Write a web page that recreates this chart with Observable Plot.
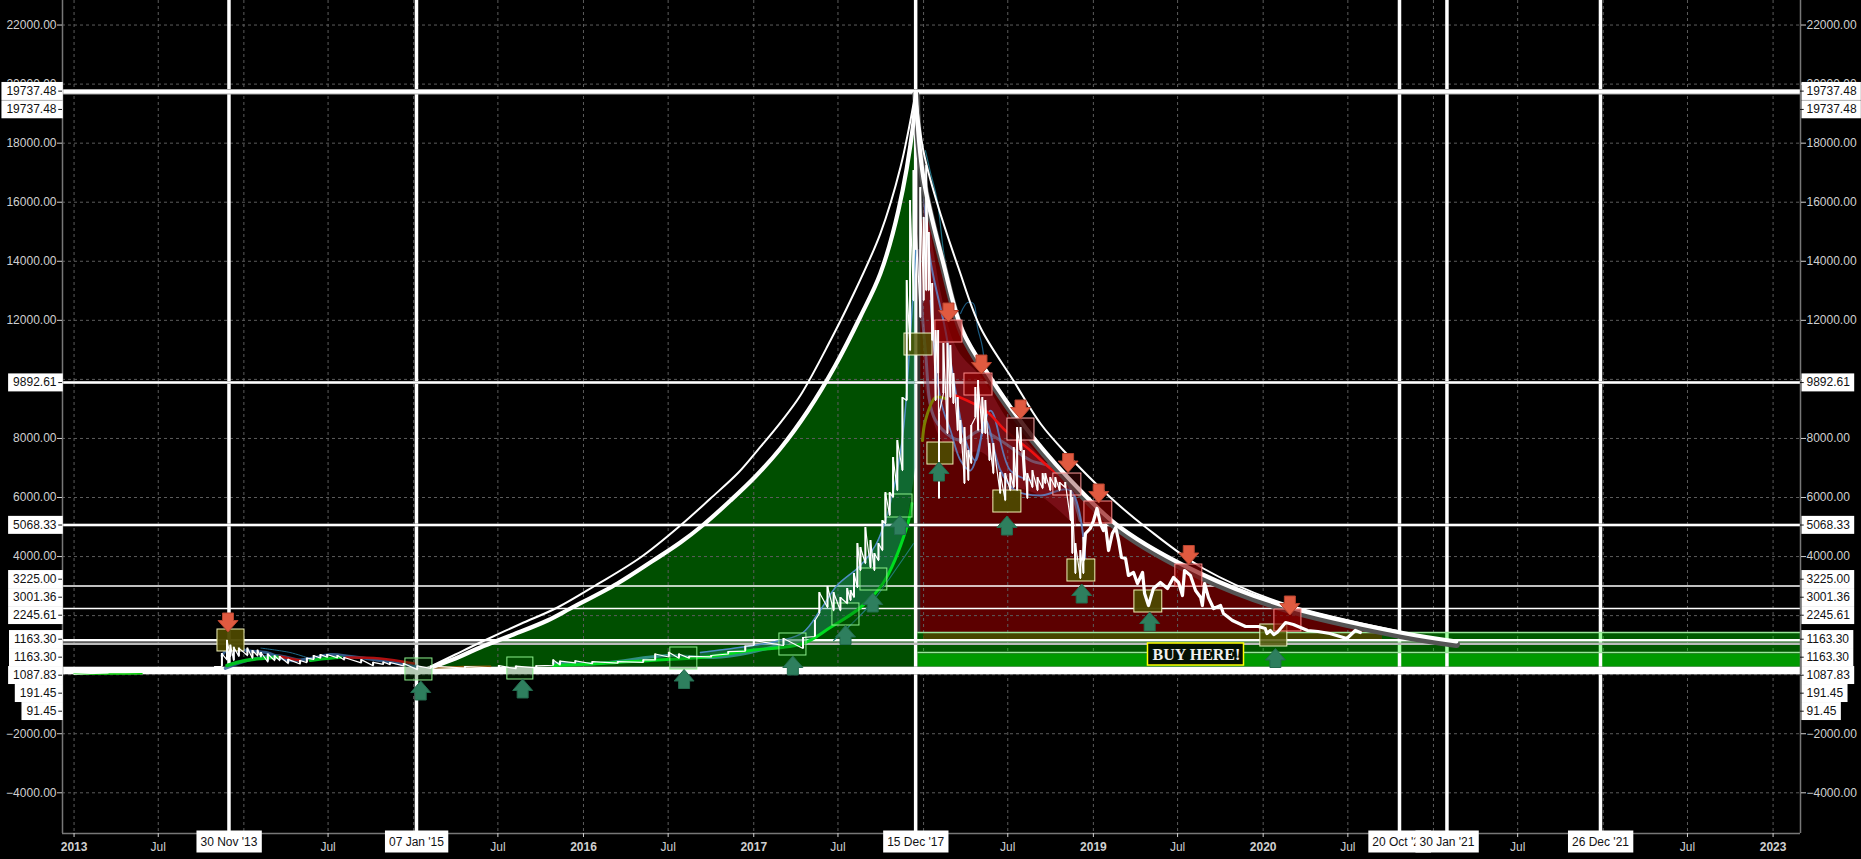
<!DOCTYPE html>
<html>
<head>
<meta charset="utf-8">
<style>
html,body{margin:0;padding:0;background:#000;overflow:hidden}
svg{display:block}
</style>
<script src="https://cdn.jsdelivr.net/npm/d3@7"></script>
<script src="https://cdn.jsdelivr.net/npm/@observablehq/plot@0.6"></script>
</head>
<body>
<div id="chart"></div>
<script>
// ---- Data: decimal year, price ----
const priceTicks = [22000,20000,18000,16000,14000,12000,10000,8000,6000,4000,2000,0,-2000,-4000];
const priceTicksCovered = [10000,2000,0];
const yearTicks = [2013,2014,2015,2016,2017,2018,2019,2020,2021,2022,2023];
const yearTicksCovered = [2014,2015,2018,2021,2022];
const julyTicks = [2013,2014,2015,2016,2017,2018,2019,2020,2021,2022];

const markedDates = [
  ["2013-11-30","30 Nov '13"],["2015-01-07","07 Jan '15"],["2017-12-15","15 Dec '17"],
  ["2020-10-20","20 Oct '20"],["2021-01-30","30 Jan '21"],["2021-12-26","26 Dec '21"]
];
const fibLevelsHeavy = [19737.48];
const fibLevelsMid = [9892.61,5068.33];
const fibLevelsThin = [3001.36,2245.61];
const floorLevels = [191.45,91.45];
const priceFlags = [
  ["19737.48",19762],["19737.48",19142],["9892.61",9892.61],["5068.33",5068.33],
  ["3225.00",3234],["3001.36",2624],["2245.61",2014],["1163.30",1202],
  ["1163.30",593],["1087.83",-17],["191.45",-626],["91.45",-1236]
];

const riseThick = [[2015.015,41],[2015.103,244],[2015.244,549],[2015.39,921],[2015.586,1361],[2015.786,1835],[2015.921,2242],[2016.198,3088],[2016.409,3867],[2016.568,4476],[2016.698,5052],[2016.863,5898],[2017.01,6711],[2017.157,7659],[2017.32,8946],[2017.48,10470],[2017.628,12129],[2017.745,13585],[2017.851,15718],[2017.939,18664],[2017.953,19737]];
const riseThin = [[2015.015,41],[2015.244,684],[2015.39,1090],[2015.627,1717],[2015.845,2275],[2016.068,3020],[2016.333,3968],[2016.568,5052],[2016.745,5966],[2016.91,6846],[2017.021,7591],[2017.157,8539],[2017.274,9454],[2017.451,11316],[2017.569,12670],[2017.745,14939],[2017.863,17174],[2017.953,19737]];
const fallThick = [[2017.953,19737],[2017.998,16835],[2018.116,13923],[2018.228,11655],[2018.393,10063],[2018.645,8032],[2018.922,6237],[2019.157,4984],[2019.628,3427],[2020.117,2343],[2020.805,1429],[2021.135,1124]];
const fallThin = [[2017.953,19737],[2017.998,17749],[2018.08,15955],[2018.204,13788],[2018.334,11756],[2018.528,9962],[2018.687,8506],[2018.834,7524],[2019.099,6000],[2019.316,4950],[2019.646,3596],[2020.117,2411],[2020.805,1460]];

// year, low, high
const priceBars = [
[2013.0,13,15],[2013.2,60,140],[2013.28,90,230],[2013.5,70,110],[2013.7,110,150],
[2013.83,90,278],[2013.87,278,717],[2013.90,500,1163],[2013.92,620,1000],[2013.94,480,930],[2013.97,620,900],[2014.02,650,900],[2014.05,560,820],[2014.08,640,830],[2014.10,600,752],[2014.14,430,700],[2014.18,480,640],[2014.21,480,616],[2014.26,379,520],[2014.33,360,480],[2014.37,410,560],[2014.41,520,650],[2014.45,560,680],[2014.49,590,684],[2014.55,570,650],[2014.59,500,582],[2014.69,400,510],[2014.76,300,420],[2014.82,350,430],[2014.86,340,413],[2014.94,300,380],[2015.02,170,300],
[2015.1,210,290],[2015.3,220,270],[2015.5,220,310],[2015.6,200,290],[2015.72,230,300],[2015.82,320,500],[2015.86,330,460],[2015.95,400,470],[2016.05,370,440],[2016.2,390,440],[2016.35,420,500],[2016.42,500,700],[2016.5,600,760],[2016.56,560,700],[2016.62,560,620],[2016.75,600,650],[2016.85,700,780],[2016.95,800,970],
[2017.0,989,1158],[2017.175,989,1226],[2017.29,887,1260],[2017.36,1293,1835],[2017.386,2072,2783],[2017.434,2275,2987],[2017.47,2167,2783],[2017.51,2167,2614],[2017.55,2411,2919],[2017.57,2513,2851],[2017.59,2614,3427],[2017.61,2953,4442],[2017.628,3528,4307],[2017.657,3765,4984],[2017.687,3630,4544],[2017.71,3528,4104],[2017.734,3867,4442],[2017.757,4205,5221],[2017.775,5120,6169],[2017.80,5391,6169],[2017.82,6000,7354],[2017.845,6237,7930],[2017.875,6914,9386],[2017.90,9285,13348],[2017.92,10977,16056],[2017.94,12670,17072],
[2017.98,12095,16496],[2018.0,12670,15481],[2018.015,13009,17241],[2018.03,13009,14973],[2018.05,11316,13246],[2018.07,9285,11655],[2018.085,10199,11655],[2018.09,5966,8844],[2018.116,9522,11215],[2018.14,8167,11215],[2018.157,9386,11147],[2018.175,9183,10199],[2018.2,8268,9386],[2018.216,7828,8607],[2018.24,6474,8370],[2018.263,6576,7591],[2018.28,7151,8438],[2018.304,8709,9725],[2018.32,8268,9962],[2018.345,8167,9386],[2018.363,8167,9285],[2018.387,7253,7828],[2018.41,6812,7828],[2018.45,6135,6846],[2018.48,5898,6812],[2018.51,6237,6812],[2018.53,6338,7693],[2018.55,6237,8370],[2018.57,7591,8370],[2018.59,6576,7591],[2018.61,5966,6812],[2018.64,6338,6914],[2018.67,6237,6677],[2018.70,6305,6812],[2018.716,6474,6812],[2018.745,6237,6677],[2018.775,6338,6677],[2018.80,6237,6508],[2018.833,6338,6508],[2018.865,5221,6237],[2018.875,4104,6000],[2018.893,3427,4442],[2018.922,3257,4205],[2018.94,3427,4646]
];
const priceAfter = [[2018.94,3900],[2018.952,4781],[2018.98,4950],[2019.0,5221],[2019.02,5628],[2019.04,5120],[2019.058,4883],[2019.07,5052],[2019.088,4205],[2019.11,4781],[2019.13,4984],[2019.147,4544],[2019.164,3968],[2019.188,3935],[2019.205,3359],[2019.235,3461],[2019.258,3088],[2019.288,3461],[2019.30,2749],[2019.323,2343],[2019.352,2919],[2019.393,3122],[2019.435,2919],[2019.47,3291],[2019.50,3122],[2019.523,2682],[2019.535,3528],[2019.57,3359],[2019.6,2851],[2019.63,2614],[2019.64,2343],[2019.653,3088],[2019.676,2614],[2019.706,2242],[2019.747,2343],[2019.764,2072],[2019.817,1835],[2019.894,1632],[2019.97,1632],[2020.01,1564],[2020.02,1395],[2020.04,1497],[2020.06,1360],[2020.08,1429],[2020.13,1767],[2020.175,1700],[2020.26,1497],[2020.32,1463],[2020.39,1395],[2020.49,1226],[2020.54,1497],[2020.57,1429]];

const maGreenEarly = [[2013.90,312],[2014.01,481],[2014.1,549],[2014.2,590]];
const maGreenMid = [[2014.39,481],[2014.47,540],[2014.57,582]];
const maGreenFlat = [[2013.0,20],[2013.25,25],[2013.4,30]];
const maRedEarly = [[2014.21,616],[2014.33,481]];
const maRedLate = [[2014.6,582],[2014.8,549],[2015.0,379]];
const maBrown = [[2015.08,230],[2015.3,270],[2015.45,280]];
const maGreen = [[2015.82,312],[2016.1,379],[2016.39,481],[2016.686,582],[2016.98,819],[2017.29,1056],[2017.45,1598],[2017.628,2275],[2017.76,3088],[2017.90,4984],[2017.93,5797]];
const maBlueEarly = [[2013.87,642],[2013.93,988],[2014.01,820],[2014.13,752],[2014.27,481],[2014.39,549],[2014.51,684],[2014.63,616],[2014.8,481],[2015.02,278]];
const maBlueLow = [[2013.89,210],[2013.98,413],[2014.07,549],[2014.18,650],[2014.33,481]];
const maTealEarly = [[2014.1,900],[2014.27,752],[2014.37,582]];
const maTealMid = [[2015.82,389],[2016.1,389],[2016.49,650],[2016.76,582],[2016.98,751],[2017.2,1090]];
const maBlueRise = [[2016.686,751],[2017.157,1158],[2017.29,1429],[2017.39,2174],[2017.49,3020],[2017.628,3698],[2017.716,4375],[2017.775,5221],[2017.834,6576],[2017.88,8268],[2017.92,11316],[2017.953,14363]];
const ribbonRise = [[2016.686,582,751],[2017.157,900,1158],[2017.29,1056,1429],[2017.39,1350,2174],[2017.49,1700,3020],[2017.628,2275,3698],[2017.716,2800,4375],[2017.775,3200,5221],[2017.834,3900,6576],[2017.88,4700,8268],[2017.92,5700,11316],[2017.953,7000,14363]];
const maTealLow = [[2017.47,1158],[2017.67,2275],[2017.86,3765],[2017.94,4442]];
const maFallBlue = [[2018.0,16396],[2018.04,14025],[2018.128,11655],[2018.187,9623],[2018.246,7930],[2018.305,7253],[2018.364,8607],[2018.452,6914],[2018.54,6237],[2018.687,6068],[2018.864,6237],[2018.952,3867]];
const maFallTeal = [[2018.01,17749],[2018.04,17004],[2018.08,16056],[2018.116,14363],[2018.14,13585],[2018.17,12670]];
const maFallTeal2 = [[2018.217,12230],[2018.258,12602],[2018.293,12568],[2018.317,11756],[2018.346,11079],[2018.364,10131]];
const maFallBlue2 = [[2018.04,12670],[2018.1,9285],[2018.158,8268],[2018.217,7253],[2018.275,6914],[2018.393,8945],[2018.51,6914],[2018.63,6576]];
const maFallGrey = [[2017.97,14363],[2018.01,10977],[2018.07,8607],[2018.217,7930],[2018.334,8268],[2018.452,7930],[2018.63,7253],[2018.805,6914],[2018.92,5221]];
const maFallRed = [[2018.187,9454],[2018.364,8945],[2018.481,8268],[2018.628,7591],[2018.746,6982],[2018.864,6508],[2018.952,6068]];
const maFallOlive = [[2017.993,7930],[2018.01,8607],[2018.07,9386],[2018.128,9352]];
const cloudFall = [[2018.0,10000,17000],[2018.1,8000,13000],[2018.2,7500,11000],[2018.35,7500,10000],[2018.5,6500,8600],[2018.7,6000,7300],[2018.9,5000,6100]];
const shadePeak = [[2017.965,15400,19737],[2018.01,15400,16400],[2018.05,15400,15400]];

// box: kind, year from, year to, price high, price low
const zoneBoxes = [
["hold",2013.844,2014.003,1530,786],["buy",2014.95,2015.109,549,-196],["buy",2015.55,2015.703,582,-163],
["buy",2016.509,2016.668,921,176],["buy",2017.151,2017.31,1395,650],["buy",2017.463,2017.622,2411,1666],
["buy",2017.628,2017.786,3596,2851],["buy",2017.775,2017.934,6102,5323],["mix",2017.887,2018.052,11553,10809],
["sell",2018.069,2018.228,11993,11249],["sell",2018.24,2018.405,10199,9454],["dark",2018.493,2018.652,8675,7930],
["hold",2018.022,2018.175,7862,7117],["hold",2018.41,2018.575,6237,5492],["pale",2018.763,2018.928,6812,6068],
["sell",2018.946,2019.11,5865,5120],["hold",2018.846,2019.01,3901,3156],["hold",2019.24,2019.404,2851,2106],
["sell",2019.481,2019.64,3731,2986],["mix",2019.981,2020.14,1700,955],["sell",2020.064,2020.223,2208,1463]
];
const arrowsUp = [[2015.04,-535],[2015.64,-467],[2016.59,-146],[2017.23,311],[2017.54,1344],[2017.70,2445],[2017.86,5069],[2018.09,6880],[2018.49,5052],[2018.93,2749],[2019.33,1801],[2020.07,565]];
const arrowsDown = [[2013.906,1767],[2018.146,12264],[2018.34,10504],[2018.57,8980],[2018.85,7168],[2019.03,6136],[2019.56,4053],[2020.155,2343]];

// ---- Helpers ----
const t0 = Date.UTC(2013,0,1);
const toDate = yr => new Date(t0 + (yr-2013)*365.25*864e5);
const rows = a => a.map(([yr,v]) => ({x:toDate(yr),y:v}));
const bands = a => a.map(([yr,lo,hi]) => ({x:toDate(yr),lo,hi}));
const fmt = v => priceTicksCovered.includes(v) ? "" : d3.format(".2f")(v);
const yearFmt = d => yearTicksCovered.includes(d.getUTCFullYear()) ? "" : String(d.getUTCFullYear());
const xMin = toDate(2012.932), xMax = toDate(2023.16);
const bandStart = toDate(2017.965);
const fullDates = markedDates.map(d => new Date(d[0]+"T00:00:00Z"));
const yearDates = yearTicks.map(y => new Date(Date.UTC(y,0,1)));
const julyDates = julyTicks.map(y => new Date(Date.UTC(y,6,1)));

const arrowUp = {draw(c){c.moveTo(0,-9.5);c.lineTo(10,2);c.lineTo(5.5,2);c.lineTo(5.5,9.5);c.lineTo(-5.5,9.5);c.lineTo(-5.5,2);c.lineTo(-10,2);c.closePath();}};
const arrowDown = {draw(c){c.moveTo(0,9.5);c.lineTo(10,-2);c.lineTo(5.5,-2);c.lineTo(5.5,-9.5);c.lineTo(-5.5,-9.5);c.lineTo(-5.5,-2);c.lineTo(-10,-2);c.closePath();}};

const maLine = (a,stroke,w,op=1) => Plot.line(rows(a),{x:"x",y:"y",stroke,strokeWidth:w,strokeOpacity:op,curve:"catmull-rom"});
const boxFill = {hold:"#4d4800",buy:"#004d00",mix:"#4f5200",sell:"#8a0000",dark:"#3a0000",pale:"#6a0808"};
const boxStroke = {hold:"#f0f0b4",buy:"#8cf08c",mix:"#ecf5c4",sell:"#ff8a8a",dark:"#ffb0b0",pale:"#ff9c9c"};
const boxOpacity = {hold:.95,buy:.3,mix:.8,sell:.65,dark:.85,pale:.35};
const zigzag = priceBars.flatMap(d => [{x:toDate(d[0]),y:d[1]},{x:toDate(d[0]),y:d[2]}]);
const flagPositions = priceFlags.map(d => d[1]);

const chart = Plot.plot({
  width:1861,height:859,
  marginTop:0,marginBottom:26,marginLeft:62,marginRight:61,
  x:{type:"utc",domain:[xMin,xMax],range:[62,1800],label:null},
  y:{domain:[-5378,22831],range:[833,0],label:null},
  style:{background:"#000",color:"#ccc",fontFamily:"'Liberation Sans',Arial,sans-serif",fontSize:"12px"},
  marks:[
    // fills
    Plot.areaY(rows(riseThick),{x:"x",y1:91,y2:"y",fill:"#004f00",curve:"catmull-rom"}),
    Plot.areaY(rows(fallThick.slice(0,-1)),{x:"x",y1:1429,y2:"y",fill:"#5c0000",curve:"catmull-rom"}),
    Plot.areaY(bands(shadePeak),{x:"x",y1:"lo",y2:"hi",fill:"#2c2c2c"}),
    Plot.rect([0],{x1:bandStart,x2:toDate(2017.983),y1:1429,y2:19737,fill:"#333"}),
    // grid
    Plot.ruleY(priceTicks,{stroke:"#5c5c5c",strokeDasharray:"3,3"}),
    Plot.ruleX(yearDates.concat(julyDates),{stroke:"#5c5c5c",strokeDasharray:"3,3"}),
    // bright buy band
    Plot.rect([0],{x1:bandStart,x2:xMax,y1:244,y2:707,fill:"#009a00"}),
    // marked levels and dates
    Plot.ruleX(fullDates,{stroke:"#fff",strokeWidth:3.5}),
    Plot.ruleY(fibLevelsHeavy,{stroke:"#aaa",strokeWidth:5.5}),
    Plot.ruleY(fibLevelsHeavy,{stroke:"#fff",strokeWidth:3.5}),
    Plot.ruleY(fibLevelsMid,{stroke:"#999",strokeWidth:3}),
    Plot.ruleY(fibLevelsMid,{stroke:"#fff",strokeWidth:2}),
    Plot.ruleY(fibLevelsThin,{stroke:"#fff",strokeWidth:1.5}),
    // dark green band over the rules
    Plot.rect([0],{x1:bandStart,x2:xMax,y1:752,y2:1429,fill:"#00ff00",fillOpacity:.35}),
    Plot.rect([0],{x1:toDate(2018.0),x2:toDate(2020.7),y1:1163,y2:1429,fill:"#4d4300",fillOpacity:.9}),
    Plot.ruleY([1429,752],{x1:bandStart,x2:xMax,stroke:"#9be89b",strokeWidth:1.5}),
    // support lines
    Plot.ruleY([1163.3],{stroke:"#fff",strokeWidth:2.5}),
    Plot.ruleY([1050],{stroke:"#bbb",strokeWidth:2.5}),
    Plot.ruleY(floorLevels,{stroke:"#999",strokeWidth:5}),
    Plot.ruleY(floorLevels,{stroke:"#fff",strokeWidth:4}),
    // ribbons
    Plot.areaY(bands(cloudFall),{x:"x",y1:"lo",y2:"hi",fill:"#a32438",fillOpacity:.4,curve:"catmull-rom"}),
    Plot.areaY(bands(ribbonRise),{x:"x",y1:"lo",y2:"hi",fill:"#2f9a8c",fillOpacity:.35,curve:"catmull-rom"}),
    maLine(maTealLow,"#1f7a72",1.2),
    maLine(maGreenFlat,"#00d000",1.5),
    maLine(maBlueEarly,"#3e6fa8",3,.8),
    maLine(maBlueLow,"#2b5c92",3,.8),
    maLine(maTealEarly,"#1f6a8a",1),
    maLine(maTealMid,"#2f8f80",3),
    maLine(maGreenEarly,"#00c020",3.5),
    maLine(maGreenMid,"#00c020",3),
    maLine(maRedEarly,"#b01010",2.5),
    maLine(maRedLate,"#b01010",2.5),
    maLine(maBrown,"#8a5a10",2),
    maLine(maGreen,"#00dc20",3),
    maLine(maBlueRise,"#4f8fc4",1.5),
    maLine(maFallGrey,"#7a6a88",3,.7),
    maLine(maFallBlue,"#5f7fc0",2,.9),
    maLine(maFallBlue2,"#5f7fc0",1.8,.9),
    maLine(maFallRed,"#ee1010",2.5),
    maLine(maFallOlive,"#7c7c00",3),
    maLine(maFallTeal,"#1e6e80",1.2),
    maLine(maFallTeal2,"#1c5a80",1.2),
    // cycle curves
    Plot.line(rows(fallThick),{x:"x",y:"y",stroke:"#555",strokeWidth:7,dy:3,curve:"catmull-rom"}),
    Plot.line(rows(riseThin),{x:"x",y:"y",stroke:"#fff",strokeWidth:2,curve:"catmull-rom"}),
    Plot.line(rows(fallThin),{x:"x",y:"y",stroke:"#fff",strokeWidth:2,curve:"catmull-rom"}),
    Plot.line(rows(riseThick),{x:"x",y:"y",stroke:"#fff",strokeWidth:4.2,curve:"catmull-rom"}),
    Plot.line(rows(fallThick),{x:"x",y:"y",stroke:"#fff",strokeWidth:4.2,curve:"catmull-rom"}),
    // zone boxes
    Plot.rect(zoneBoxes,{x1:d=>toDate(d[1]),x2:d=>toDate(d[2]),y1:d=>d[3],y2:d=>d[4],
      fill:d=>boxFill[d[0]],fillOpacity:d=>boxOpacity[d[0]],stroke:d=>boxStroke[d[0]],strokeWidth:1}),
    // price
    Plot.line(zigzag,{x:"x",y:"y",stroke:"#fff",strokeWidth:1.2}),
    Plot.ruleX(priceBars,{x:d=>toDate(d[0]),y1:d=>d[1],y2:d=>d[2],stroke:"#fff",strokeWidth:2}),
    Plot.line(rows(priceAfter),{x:"x",y:"y",stroke:"#fff",strokeWidth:3.2}),
    // arrows
    Plot.dot(rows(arrowsUp),{x:"x",y:"y",symbol:arrowUp,fill:"#2e7f5e",stroke:"#236b4e",strokeWidth:1}),
    Plot.dot(rows(arrowsDown),{x:"x",y:"y",symbol:arrowDown,fill:"#e05a40",stroke:"#b8442f",strokeWidth:1}),
    // callout
    Plot.rect([0],{x1:toDate(2019.32),x2:toDate(2019.885),y1:311,y2:1056,fill:"#031003",stroke:"#ffff00",strokeWidth:1.5}),
    Plot.text(["BUY HERE!"],{x:toDate(2019.605),y:684,fill:"#f0f0f0",fontFamily:"'Liberation Serif',serif",fontWeight:"bold",fontSize:16}),
    // frame
    Plot.ruleX([xMin,xMax],{stroke:"#777",strokeWidth:1.5}),
    Plot.ruleY([-5378],{stroke:"#777",strokeWidth:1.5}),
    // axes
    Plot.axisY(priceTicks,{anchor:"left",tickFormat:fmt,tickSize:5,tickPadding:1,stroke:"#d0d0d0",fill:"#d0d0d0",fontSize:12,label:null}),
    Plot.axisY(priceTicks,{anchor:"right",tickFormat:fmt,tickSize:5,tickPadding:1,stroke:"#d0d0d0",fill:"#d0d0d0",fontSize:12,label:null}),
    Plot.axisX(julyDates,{anchor:"bottom",tickFormat:()=>"Jul",tickSize:4,tickPadding:5,stroke:"#d0d0d0",fill:"#d0d0d0",fontSize:12,label:null}),
    Plot.axisX(yearDates,{anchor:"bottom",tickFormat:yearFmt,tickSize:4,tickPadding:5,stroke:"#d0d0d0",fill:"#d0d0d0",fontSize:12,fontWeight:"bold",label:null}),
    // flags
    Plot.text(priceFlags,{y:d=>d[1],text:d=>d[0],frameAnchor:"left",dx:-6,textAnchor:"end",fill:"#111111",fontSize:12}),
    Plot.text(priceFlags,{y:d=>d[1],text:d=>d[0],frameAnchor:"right",dx:6,textAnchor:"start",fill:"#111112",fontSize:12}),
    Plot.text(markedDates,{x:(d,i)=>fullDates[i],text:d=>d[1],frameAnchor:"bottom",dy:12,fill:"#111113",fontSize:12}),
    Plot.ruleY(flagPositions,{x1:xMin,x2:toDate(2012.91),stroke:"#111",strokeWidth:1}),
    Plot.ruleY(flagPositions,{x1:xMax,x2:toDate(2023.182),stroke:"#111",strokeWidth:1})
  ]
});
document.getElementById("chart").append(chart);

// White label plates behind the flag texts, sized from the rendered text
const plates = (ink,padL,padR,h) => {
  chart.querySelectorAll(`g[fill="${ink}"] text`).forEach(t => {
    const b = t.getBBox();
    const r = document.createElementNS("http://www.w3.org/2000/svg","rect");
    r.setAttribute("x",b.x-padL);
    r.setAttribute("y",b.y+b.height/2-h/2);
    r.setAttribute("width",b.width+padL+padR);
    r.setAttribute("height",h);
    r.setAttribute("fill","#fff");
    if (t.getAttribute("transform")) r.setAttribute("transform",t.getAttribute("transform"));
    t.parentNode.insertBefore(r,t);
  });
};
plates("#111111",5,6,18);
plates("#111112",5,4,18);
plates("#111113",4,4,22);
</script>
</body>
</html>
